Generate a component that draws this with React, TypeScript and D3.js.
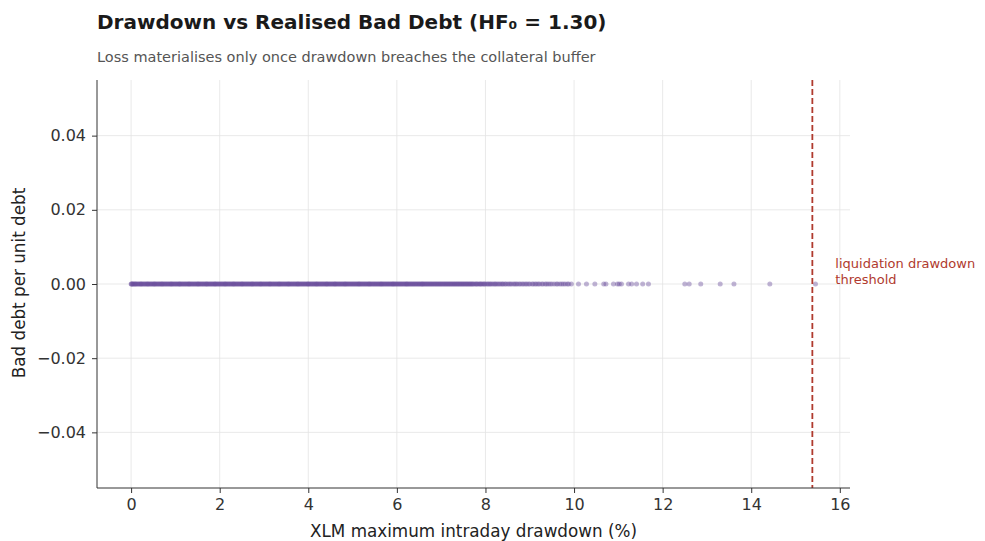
import React, { useRef, useEffect } from 'react';
import * as d3 from 'd3';

const WIDTH = 985;
const HEIGHT = 541;
const FONT = 'DejaVu Sans, sans-serif';

// XLM max intraday drawdown (%) per simulated path; realised bad debt is zero for all of them
const drawdowns: number[] = [
  0, 0.02, 0.05, 0.09, 0.12, 0.16, 0.2, 0.23, 0.27, 0.31, 0.35, 0.38, 0.42, 0.46, 0.5, 0.53, 0.57, 0.61, 0.65, 0.69, 0.72, 0.76, 0.8, 0.84, 0.88, 0.91, 0.95, 0.99,
  1.03, 1.07, 1.1, 1.14, 1.18, 1.22, 1.26, 1.3, 1.33, 1.37, 1.41, 1.45, 1.49, 1.52, 1.56, 1.6, 1.64, 1.68, 1.71, 1.75, 1.79, 1.83, 1.87, 1.9, 1.94, 1.98,
  2.02, 2.06, 2.1, 2.13, 2.17, 2.21, 2.25, 2.29, 2.32, 2.36, 2.4, 2.44, 2.48, 2.51, 2.55, 2.59, 2.63, 2.67, 2.71, 2.74, 2.78, 2.82, 2.86, 2.9, 2.93, 2.97,
  3.01, 3.05, 3.09, 3.13, 3.16, 3.2, 3.24, 3.28, 3.32, 3.35, 3.39, 3.43, 3.47, 3.51, 3.55, 3.58, 3.62, 3.66, 3.7, 3.74, 3.77, 3.81, 3.85, 3.89, 3.93, 3.97,
  4.0, 4.04, 4.08, 4.12, 4.16, 4.19, 4.23, 4.27, 4.31, 4.35, 4.39, 4.42, 4.46, 4.5, 4.54, 4.58, 4.61, 4.65, 4.69, 4.73, 4.77, 4.81, 4.84, 4.88, 4.92, 4.96,
  5.0, 5.04, 5.08, 5.12, 5.15, 5.19, 5.23, 5.27, 5.31, 5.35, 5.38, 5.42, 5.46, 5.5, 5.54, 5.58, 5.62, 5.65, 5.69, 5.73, 5.77, 5.81, 5.85, 5.89, 5.92, 5.96,
  6.0, 6.04, 6.08, 6.12, 6.16, 6.2, 6.23, 6.27, 6.31, 6.35, 6.39, 6.43, 6.47, 6.51, 6.55, 6.58, 6.62, 6.66, 6.7, 6.74, 6.78, 6.82, 6.86, 6.9, 6.94, 6.98,
  7.02, 7.06, 7.1, 7.14, 7.18, 7.22, 7.26, 7.3, 7.34, 7.38, 7.42, 7.46, 7.5, 7.54, 7.58, 7.62, 7.66, 7.7, 7.74, 7.79, 7.83, 7.88, 7.92, 7.97,
  8.02, 8.07, 8.12, 8.18, 8.23, 8.29, 8.35, 8.4, 8.46, 8.53, 8.59, 8.66, 8.72, 8.79, 8.86, 8.93, 9.0, 9.08, 9.15, 9.22, 9.3, 9.38, 9.46, 9.55, 9.63, 9.72, 9.8, 9.88, 9.94,
  10.1, 10.28, 10.47, 10.67, 10.72, 10.89, 10.98, 11.02, 11.07, 11.23, 11.3, 11.41, 11.55, 11.68, 12.5, 12.6, 12.86, 13.3, 13.61, 14.42, 15.45,
];
// further paths in the crowded 0–10 % band
const drawdownsMore: number[] = [
  0.01, 0.04, 0.07, 0.1, 0.14, 0.18, 0.22, 0.25, 0.29, 0.33, 0.37, 0.4, 0.44, 0.48, 0.52, 0.55, 0.59, 0.63, 0.67, 0.7, 0.74, 0.78, 0.82, 0.86, 0.9, 0.93, 0.97,
  1.01, 1.05, 1.09, 1.12, 1.16, 1.2, 1.24, 1.28, 1.31, 1.35, 1.39, 1.43, 1.47, 1.51, 1.54, 1.58, 1.62, 1.66, 1.7, 1.73, 1.77, 1.81, 1.85, 1.89, 1.92, 1.96,
  2.0, 2.04, 2.08, 2.12, 2.15, 2.19, 2.23, 2.27, 2.31, 2.34, 2.38, 2.42, 2.46, 2.5, 2.53, 2.57, 2.61, 2.65, 2.69, 2.73, 2.76, 2.8, 2.84, 2.88, 2.92, 2.95, 2.99,
  3.03, 3.07, 3.11, 3.14, 3.18, 3.22, 3.26, 3.3, 3.34, 3.37, 3.41, 3.45, 3.49, 3.53, 3.56, 3.6, 3.64, 3.68, 3.72, 3.76, 3.79, 3.83, 3.87, 3.91, 3.95, 3.99,
  4.02, 4.06, 4.1, 4.14, 4.18, 4.21, 4.25, 4.29, 4.33, 4.37, 4.41, 4.44, 4.48, 4.52, 4.56, 4.6, 4.63, 4.67, 4.71, 4.75, 4.79, 4.83, 4.86, 4.9, 4.94, 4.98,
  5.02, 5.06, 5.1, 5.14, 5.17, 5.21, 5.25, 5.29, 5.33, 5.37, 5.4, 5.44, 5.48, 5.52, 5.56, 5.6, 5.64, 5.67, 5.71, 5.75, 5.79, 5.83, 5.87, 5.91, 5.94, 5.98,
  6.02, 6.06, 6.1, 6.14, 6.18, 6.22, 6.25, 6.29, 6.33, 6.37, 6.41, 6.45, 6.49, 6.53, 6.57, 6.6, 6.64, 6.68, 6.72, 6.76, 6.8, 6.84, 6.88, 6.92, 6.96,
  7.0, 7.04, 7.08, 7.12, 7.16, 7.2, 7.24, 7.28, 7.32, 7.36, 7.4, 7.44, 7.48, 7.52, 7.56, 7.6, 7.64, 7.68, 7.72, 7.77, 7.81, 7.86, 7.9, 7.95, 7.99,
  8.05, 8.1, 8.15, 8.21, 8.26, 8.32, 8.38, 8.44, 8.5, 8.56, 8.63, 8.69, 8.76, 8.83, 8.9, 8.97, 9.05, 9.12, 9.19, 9.27, 9.35, 9.42, 9.5, 9.6, 9.68,
  9.76, 9.85,
];
const allDrawdowns = [...drawdowns, ...drawdownsMore];
const badDebt: number[] = allDrawdowns.map(() => 0);

const THRESHOLD = 15.38;
const xTicks = [0, 2, 4, 6, 8, 10, 12, 14, 16];
const yTicks = [-0.04, -0.02, 0, 0.02, 0.04];

const TITLE = 'Drawdown vs Realised Bad Debt (HF\u2080 = 1.30)';
const SUBTITLE = 'Loss materialises only once drawdown breaches the collateral buffer';
const X_LABEL = 'XLM maximum intraday drawdown (%)';
const Y_LABEL = 'Bad debt per unit debt';
const THRESHOLD_LABEL = ['liquidation drawdown', 'threshold'];

const fmtY = (v: number) => (v < 0 ? '\u2212' : '') + Math.abs(v).toFixed(2);

export default function App() {
  const svgRef = useRef<SVGSVGElement>(null);

  useEffect(() => {
    if (!svgRef.current) return;
    const svg = d3.select(svgRef.current);
    svg.selectAll('*').remove();

    const left = 97, right = 850, top = 80, bottom = 488;
    const x = d3.scaleLinear().domain([-0.77, 16.23]).range([left, right]);
    const y = d3.scaleLinear().domain([-0.055, 0.055]).range([bottom, top]);

    svg.append('rect').attr('width', WIDTH).attr('height', HEIGHT).attr('fill', '#ffffff');

    // grid
    const grid = svg.append('g');
    xTicks.forEach((t) => {
      grid.append('line')
        .attr('x1', x(t)).attr('x2', x(t)).attr('y1', top).attr('y2', bottom)
        .attr('stroke', '#e3e3e3').attr('stroke-width', 0.8);
    });
    yTicks.forEach((t) => {
      grid.append('line')
        .attr('x1', left).attr('x2', right).attr('y1', y(t)).attr('y2', y(t))
        .attr('stroke', '#e3e3e3').attr('stroke-width', 0.8);
    });

    // points
    svg.append('g')
      .selectAll('circle')
      .data(allDrawdowns)
      .join('circle')
      .attr('cx', (d) => x(d))
      .attr('cy', (_, i) => y(badDebt[i]))
      .attr('r', 2.5)
      .attr('fill', '#6a4c9c')
      .attr('fill-opacity', 0.42);

    // threshold line
    svg.append('line')
      .attr('x1', x(THRESHOLD)).attr('x2', x(THRESHOLD)).attr('y1', top).attr('y2', bottom)
      .attr('stroke', '#b03a2e').attr('stroke-width', 1.8)
      .attr('stroke-dasharray', '6,3');

    const lbl = svg.append('text')
      .attr('x', x(THRESHOLD) + 23).attr('y', y(0) - 16)
      .attr('fill', '#b03a2e').attr('font-size', 13).attr('font-family', FONT);
    THRESHOLD_LABEL.forEach((s, i) => {
      lbl.append('tspan').attr('x', x(THRESHOLD) + 23).attr('dy', i === 0 ? 0 : 16).text(s);
    });

    // axes
    const xAxis = svg.append('g').attr('transform', `translate(0,${bottom})`)
      .call(d3.axisBottom(x).tickValues(xTicks).tickSize(5).tickPadding(6).tickFormat((d) => String(d)));
    const yAxis = svg.append('g').attr('transform', `translate(${left},0)`)
      .call(d3.axisLeft(y).tickValues(yTicks).tickSize(5).tickPadding(6).tickFormat((d) => fmtY(d as number)));
    [xAxis, yAxis].forEach((a) => {
      a.select('.domain').attr('stroke', '#333333').attr('stroke-width', 1);
      a.selectAll('.tick line').attr('stroke', '#333333').attr('stroke-width', 1);
      a.selectAll('.tick text').attr('fill', '#333333').attr('font-size', 16).attr('font-family', FONT);
    });
    // mpl-style spines: plain lines without the end caps
    xAxis.select('.domain').attr('d', `M${left},0H${right}`);
    yAxis.select('.domain').attr('d', `M0,${top}V${bottom}`);

    // labels
    svg.append('text')
      .attr('x', (left + right) / 2).attr('y', 537)
      .attr('text-anchor', 'middle').attr('fill', '#222222')
      .attr('font-size', 16.8).attr('font-family', FONT).text(X_LABEL);
    svg.append('text')
      .attr('transform', `translate(25,${(top + bottom) / 2 - 1}) rotate(-90)`)
      .attr('text-anchor', 'middle').attr('fill', '#222222')
      .attr('font-size', 16.8).attr('font-family', FONT).text(Y_LABEL);

    svg.append('text')
      .attr('x', 97).attr('y', 29)
      .attr('fill', '#1a1a1a').attr('font-size', 20).attr('font-weight', 'bold')
      .attr('font-family', FONT).text(TITLE);
    svg.append('text')
      .attr('x', 97).attr('y', 62)
      .attr('fill', '#555555').attr('font-size', 14.5)
      .attr('font-family', FONT).text(SUBTITLE);
  }, []);

  return (
    <svg
      ref={svgRef}
      width={WIDTH}
      height={HEIGHT}
      viewBox={`0 0 ${WIDTH} ${HEIGHT}`}
      style={{ position: 'absolute', left: 0, top: 0, display: 'block' }}
    />
  );
}
